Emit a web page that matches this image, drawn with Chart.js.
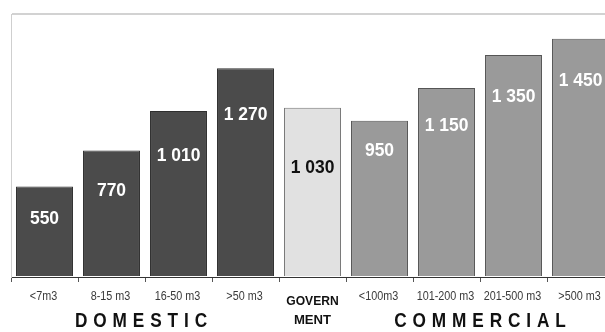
<!DOCTYPE html>
<html>
<head>
<meta charset="utf-8">
<script src="https://cdn.jsdelivr.net/npm/chart.js@4/dist/chart.umd.min.js"></script>
<style>
  html, body { margin: 0; padding: 0; background: #fff; overflow: hidden; }
  #wrap { position: absolute; left: 0; top: 0; width: 625px; height: 332px; }
</style>
</head>
<body>
<div id="wrap"><canvas id="c" width="625" height="332"></canvas></div>
<script>
// Water tariff bands: domestic, government, commercial
const categories = ['<7m3', '8-15 m3', '16-50 m3', '>50 m3', 'GOVERNMENT', '<100m3', '101-200 m3', '201-500 m3', '>500 m3'];
const values = [550, 770, 1010, 1270, 1030, 950, 1150, 1350, 1450];
const valueLabels = ['550', '770', '1 010', '1 270', '1 030', '950', '1 150', '1 350', '1 450'];
const groups = [
  { name: 'DOMESTIC', from: 0, to: 3 },
  { name: 'COMMERCIAL', from: 5, to: 8 }
];
const yMax = 1600;

const FONT = '"Liberation Sans", Arial, sans-serif';
const barFill = ['#4b4b4b', '#4b4b4b', '#4b4b4b', '#4b4b4b', '#e1e1e1', '#9a9a9a', '#9a9a9a', '#9a9a9a', '#9a9a9a'];
const barEdge = ['#2e2e2e', '#2e2e2e', '#2e2e2e', '#2e2e2e', '#777777', '#555555', '#555555', '#555555', '#555555'];
const labelInk = ['#fff', '#fff', '#fff', '#fff', '#111', '#fff', '#fff', '#fff', '#fff'];
// how far below the bar top each value label sits
const labelDrop = [32, 40, 45, 47, 60, 30, 38, 42, 42];
// nudge for the group captions
const captionShift = [-4, 0];

// text squeezed horizontally by sx for a condensed look
function narrowText(ctx, text, cx, cy, sx) {
  ctx.save();
  ctx.translate(cx, cy);
  ctx.scale(sx, 1);
  ctx.textAlign = 'center';
  ctx.fillText(text, 0, 0);
  ctx.restore();
}

function spacedText(ctx, text, cx, cy, gap, sx) {
  const chars = text.split('');
  const widths = chars.map(ch => ctx.measureText(ch).width * sx);
  const total = widths.reduce((a, b) => a + b, 0) + gap * (chars.length - 1);
  let x = cx - total / 2;
  chars.forEach((ch, i) => {
    narrowText(ctx, ch, x + widths[i] / 2, cy, sx);
    x += widths[i] + gap;
  });
}

const annotations = {
  id: 'annotations',
  afterDatasetsDraw(chart) {
    const ctx = chart.ctx;
    const meta = chart.getDatasetMeta(0);
    ctx.save();
    ctx.textBaseline = 'middle';
    ctx.font = 'bold 19px ' + FONT;
    meta.data.forEach((bar, i) => {
      ctx.fillStyle = labelInk[i];
      narrowText(ctx, valueLabels[i], bar.x, bar.y + labelDrop[i], 0.92);
    });
    ctx.restore();
  },
  afterDraw(chart) {
    const ctx = chart.ctx;
    const x = chart.scales.x;
    ctx.save();
    ctx.textBaseline = 'middle';
    // category labels under the axis
    ctx.fillStyle = '#3a3a3a';
    ctx.font = '12px ' + FONT;
    categories.forEach((c, i) => {
      if (i !== 4) narrowText(ctx, c, x.getPixelForValue(i) - 1, 297, 0.9);
    });
    // two-line label under the government bar
    ctx.fillStyle = '#111';
    ctx.font = 'bold 12.5px ' + FONT;
    const gx = x.getPixelForValue(4);
    narrowText(ctx, 'GOVERN', gx, 302, 0.97);
    narrowText(ctx, 'MENT', gx, 321, 1.05);
    // group captions
    ctx.font = 'bold 21px ' + FONT;
    groups.forEach((g, k) => {
      const cx = (x.getPixelForValue(g.from) + x.getPixelForValue(g.to)) / 2 + captionShift[k];
      spacedText(ctx, g.name, cx, 321, 5.9, 0.82);
    });
    ctx.restore();
  }
};

new Chart(document.getElementById('c'), {
  type: 'bar',
  data: {
    labels: categories,
    datasets: [{
      data: values,
      backgroundColor: barFill,
      borderColor: barEdge,
      borderWidth: 1,
      borderSkipped: 'bottom',
      barPercentage: 0.85,
      categoryPercentage: 1
    }]
  },
  options: {
    responsive: false,
    animation: false,
    layout: { padding: { top: 14, right: 11, left: 0, bottom: 0 } },
    plugins: { legend: { display: false }, tooltip: { enabled: false } },
    scales: {
      x: {
        afterFit(scale) { scale.height = 55; },
        border: { color: '#333', width: 1 },
        grid: { drawOnChartArea: false, color: '#555', tickLength: 5 },
        ticks: {
          padding: 8,
          maxRotation: 0,
          autoSkip: false,
          font: { family: FONT, size: 12 },
          callback() { return ''; }
        }
      },
      y: {
        min: 0,
        max: yMax,
        afterFit(scale) { scale.width = 11; },
        border: { color: '#cfcfcf', width: 1 },
        grid: {
          drawTicks: false,
          lineWidth: 2,
          color: ctx => (ctx.tick && ctx.tick.value === yMax) ? '#d2d2d2' : 'rgba(0,0,0,0)'
        },
        ticks: { display: false, stepSize: 400 }
      }
    }
  },
  plugins: [annotations]
});
</script>
</body>
</html>
